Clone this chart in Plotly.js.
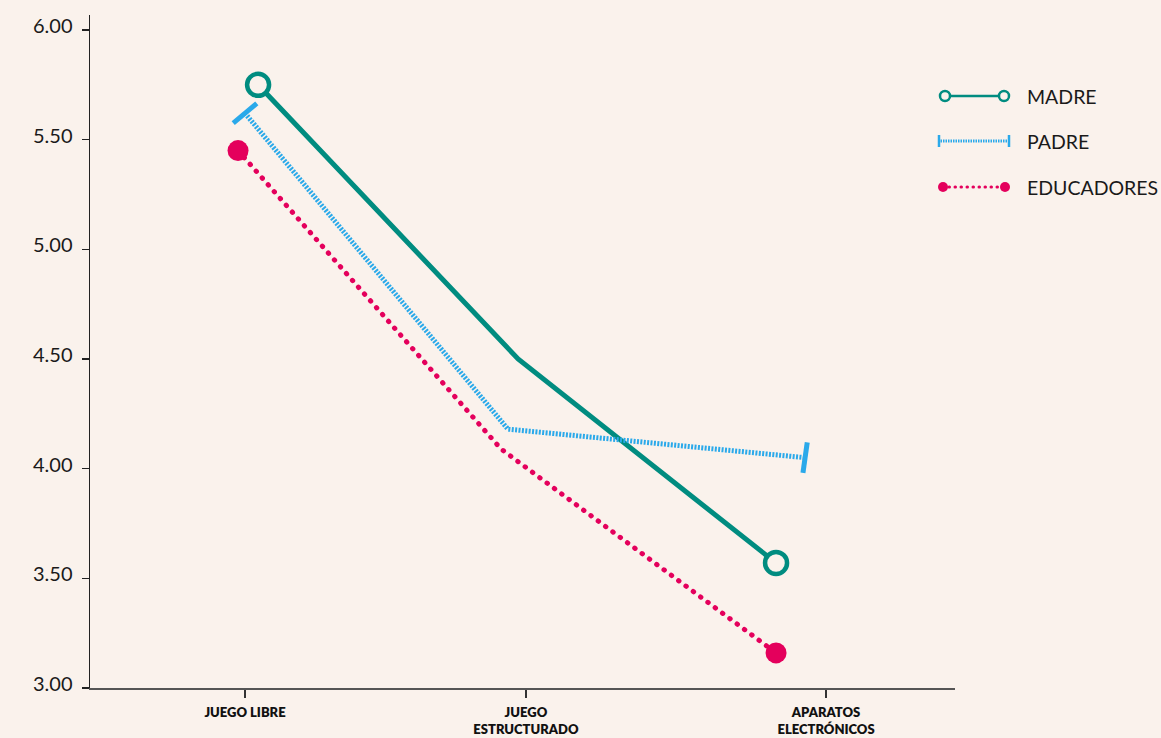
<!DOCTYPE html>
<html>
<head>
<meta charset="utf-8">
<script src="https://cdn.plot.ly/plotly-3.0.1.min.js"></script>
<style>
  html, body { margin: 0; padding: 0; background: #faf2ec; }
  #chart { width: 1161px; height: 738px; }
</style>
</head>
<body>
<div id="chart"></div>
<script>
// ---- data ----
const categories = ['JUEGO LIBRE', 'JUEGO<br>ESTRUCTURADO', 'APARATOS<br>ELECTRÓNICOS'];
const categoryPos = [0, 0.967, 2];
const seriesNames = ['MADRE', 'PADRE', 'EDUCADORES'];
const madre = [5.75, 4.50, 3.57];
const padre = [5.62, 4.18, 4.05];
const educadores = [5.45, 4.09, 3.16];
const madreX = [0.045, 0.94, 1.828];
const padreX = [0.0, 0.905, 1.928];
const educadoresX = [-0.024, 0.881, 1.828];
const yTicks = [3.0, 3.5, 4.0, 4.5, 5.0, 5.5, 6.0];

// ---- style ----
const BG = '#faf2ec';
const TEAL = '#008c80';
const BLUE = '#2aa9ea';
const PINK = '#e4005c';

const W = 1161, H = 738;
const M = { l: 90, r: 206, t: 15, b: 50 };
const plotW = W - M.l - M.r, plotH = H - M.t - M.b;
const px = x => (x - M.l) / plotW;
const py = y => (H - M.b - y) / plotH;

const traces = [
  {
    x: madreX, y: madre, name: seriesNames[0], mode: 'lines+markers',
    line: { color: TEAL, width: 5 },
    marker: { symbol: 'circle', opacity: 1, size: [22, 0, 22], color: BG, line: { color: TEAL, width: 4.5 } },
    showlegend: false, cliponaxis: false
  },
  {
    x: padreX, y: padre, name: seriesNames[1], mode: 'lines+markers',
    line: { color: BLUE, width: 5, dash: '2px,1.4px' },
    marker: { symbol: 'line-ns', opacity: 1, size: [22, 0, 22], angle: [50, 0, 8], color: BLUE, line: { color: BLUE, width: 5 } },
    showlegend: false, cliponaxis: false
  },
  {
    x: educadoresX, y: educadores, name: seriesNames[2], mode: 'lines+markers',
    line: { color: PINK, width: 5, dash: '0.5px,8.6px' },
    marker: { symbol: 'circle', opacity: 1, size: [21, 0, 21], color: PINK, line: { width: 0 } },
    showlegend: false, cliponaxis: false
  }
];

// ---- custom legend (lines with markers at both ends) ----
const shapes = [];
const annotations = [];
function circ(cx, cy, r, fill, stroke, sw) {
  shapes.push({ type: 'circle', xref: 'paper', yref: 'paper',
    x0: px(cx - r), x1: px(cx + r), y0: py(cy + r), y1: py(cy - r),
    fillcolor: fill, line: { color: stroke, width: sw } });
}
function seg(x0, y0, x1, y1, color, width, dash) {
  shapes.push({ type: 'line', xref: 'paper', yref: 'paper',
    x0: px(x0), x1: px(x1), y0: py(y0), y1: py(y1),
    line: { color: color, width: width, dash: dash || 'solid' } });
}
const legY = [96, 141, 187];
// MADRE
seg(945, legY[0], 1004, legY[0], TEAL, 2.5);
circ(945, legY[0], 5, BG, TEAL, 2.5);
circ(1004, legY[0], 5, BG, TEAL, 2.5);
// PADRE
seg(938, legY[1], 1010, legY[1], BLUE, 3, '1.5px,1px');
seg(939, legY[1] - 6, 939, legY[1] + 6, BLUE, 2.5);
seg(1009, legY[1] - 6, 1009, legY[1] + 6, BLUE, 2.5);
// EDUCADORES
seg(943, legY[2], 1005, legY[2], PINK, 3, '0.5px,5.5px');
circ(943, legY[2], 5, PINK, PINK, 0);
circ(1005, legY[2], 5, PINK, PINK, 0);
seriesNames.forEach((n, i) => {
  annotations.push({ xref: 'paper', yref: 'paper', x: px(1025), y: py(legY[i]),
    xanchor: 'left', yanchor: 'middle', text: n, showarrow: false,
    font: { family: 'Lato, sans-serif', size: 19.5, color: '#1a1a1a' } });
});

const layout = {
  width: W, height: H,
  margin: M,
  paper_bgcolor: BG, plot_bgcolor: BG,
  showlegend: false,
  xaxis: {
    type: 'linear', range: [-0.5336, 2.444],
    tickmode: 'array', tickvals: categoryPos, ticktext: categories,
    ticks: 'outside', ticklen: 8, tickwidth: 1.2, tickcolor: '#333',
    ticklabelstandoff: 3,
    showgrid: false, zeroline: false,
    showline: true, linecolor: '#555', linewidth: 2,
    tickfont: { family: 'Lato, sans-serif', size: 13, weight: 800, color: '#111' }
  },
  yaxis: {
    range: [3.0, 6.068],
    tickmode: 'array', tickvals: yTicks, ticktext: yTicks.map(v => v.toFixed(2)),
    ticks: 'outside', ticklen: 7, tickwidth: 1.2, tickcolor: '#222',
    ticklabelstandoff: 5, ticklabelshift: -4,
    showgrid: false, zeroline: false,
    showline: true, linecolor: '#222', linewidth: 1.5,
    tickfont: { family: 'Lato, sans-serif', size: 20, color: '#1a1a1a' }
  },
  shapes: shapes,
  annotations: annotations
};

Plotly.newPlot('chart', traces, layout, { staticPlot: true }).then(() => {
  document.querySelectorAll('path').forEach(p => {
    const d = p.style.strokeDasharray || '';
    if (d.indexOf('0.5px') === 0) p.style.strokeLinecap = 'round';
  });
});
</script>
</body>
</html>
